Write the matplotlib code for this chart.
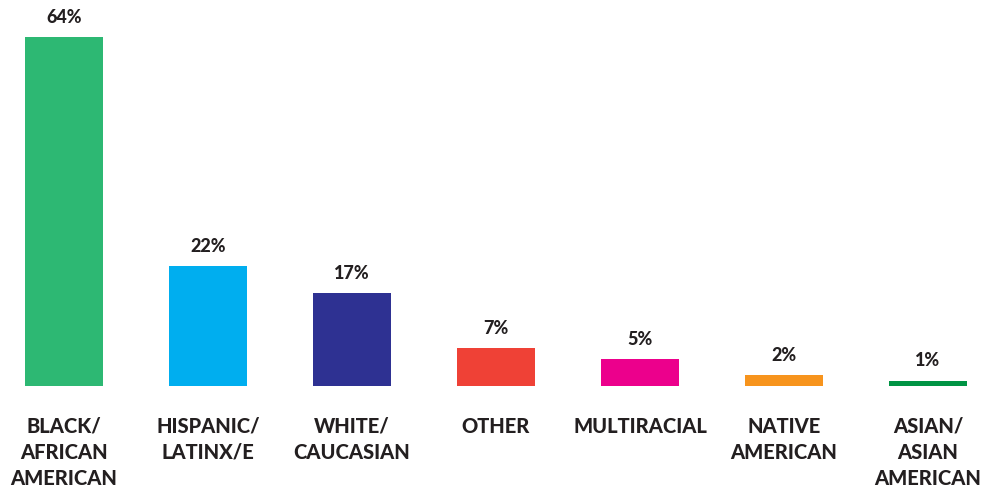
import matplotlib
matplotlib.use("Agg")
import matplotlib.pyplot as plt

# data
categories = ["BLACK/\nAFRICAN\nAMERICAN", "HISPANIC/\nLATINX/E", "WHITE/\nCAUCASIAN",
              "OTHER", "MULTIRACIAL", "NATIVE\nAMERICAN", "ASIAN/\nASIAN\nAMERICAN"]
values = [64, 22, 17, 7, 5, 2, 1]
colors = ["#2DB873", "#00AEEF", "#2E3192", "#EF4136", "#EC008C", "#F7941D", "#009444"]

text_color = "#231F20"
plt.rcParams["font.family"] = ["Lato", "DejaVu Sans"]

fig = plt.figure(figsize=(9.92, 4.86), dpi=100)
ax = fig.add_axes([0, 100 / 486, 1, 386 / 486])

x = range(len(categories))
bars = ax.bar(x, values, width=0.54, color=colors, linewidth=0)

for b, v in zip(bars, values):
    ax.annotate(f"{v}%", (b.get_x() + b.get_width() / 2, v),
                xytext=(0, 8), textcoords="offset points",
                ha="center", va="bottom", fontsize=13,
                fontweight=900, color=text_color)

ax.set_xlim(-64 / 144, (992 - 64) / 144)
ax.set_ylim(0, 386 / (349 / 64))
ax.set_xticks(list(x))
ax.set_xticklabels(categories, fontsize=14.5, fontweight=900,
                   color=text_color, linespacing=1.45)
ax.tick_params(axis="x", length=0, pad=22)
ax.set_yticks([])
for s in ax.spines.values():
    s.set_visible(False)

fig.savefig("out.png", dpi=100)
